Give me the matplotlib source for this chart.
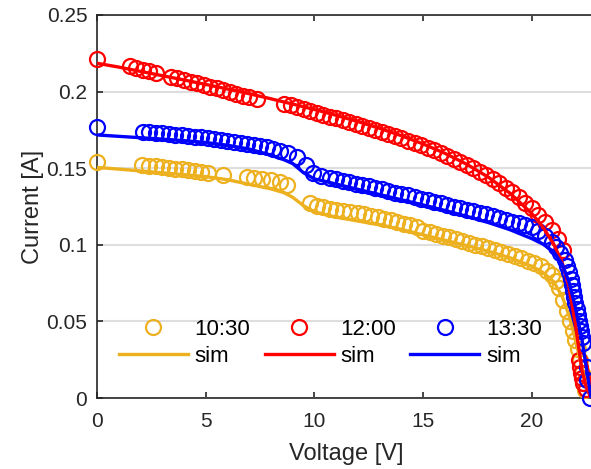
import numpy as np
import matplotlib
matplotlib.use('Agg')
import matplotlib.pyplot as plt

plt.rcParams['font.family'] = ['Liberation Sans', 'DejaVu Sans']

# measured points, 10:30
v_1030 = [0.0, 2.05, 2.4, 2.7, 3.0, 3.3, 3.6, 3.9, 4.2, 4.5, 4.8, 5.1, 5.8, 6.9,
          7.2, 7.6, 8.0, 8.4, 8.73, 9.8, 10.1, 10.4, 10.7, 11.0, 11.3, 11.64,
          12.0, 12.3, 12.6, 12.9, 13.2, 13.5, 13.8, 14.1, 14.4, 14.7, 15.0,
          15.3, 15.6, 15.9, 16.2, 16.5, 16.8, 17.1, 17.4, 17.7, 18.0, 18.3,
          18.6, 18.9, 19.2, 19.5, 19.8, 20.1, 20.4, 20.7, 20.9, 21.1, 21.25,
          21.45, 21.6, 21.75, 21.9, 22.0, 22.1, 22.2, 22.3, 22.37, 22.45]
i_1030 = [0.1543, 0.1521, 0.1517, 0.1512, 0.1508, 0.1503, 0.1498, 0.1493, 0.1488,
          0.1482, 0.1477, 0.1471, 0.1456, 0.1445, 0.1438, 0.1430, 0.1420, 0.1407,
          0.1390, 0.1270, 0.1255, 0.1245, 0.1236, 0.1228, 0.1222, 0.1216, 0.1206,
          0.1198, 0.1190, 0.1180, 0.1170, 0.1160, 0.1149, 0.1138, 0.1127, 0.1116,
          0.1092, 0.1081, 0.1070, 0.1059, 0.1048, 0.1036, 0.1025, 0.1013, 0.1001,
          0.0990, 0.0978, 0.0966, 0.0953, 0.0940, 0.0926, 0.0912, 0.0897, 0.0880,
          0.0860, 0.0832, 0.0805, 0.0765, 0.0720, 0.0640, 0.0570, 0.0500, 0.0440,
          0.0380, 0.0320, 0.0250, 0.0160, 0.0096, 0.0050]

# measured points, 12:00
v_1200 = [0.0, 1.5, 1.8, 2.1, 2.4, 2.7, 3.4, 3.7, 4.0, 4.3, 4.6, 4.9, 5.2, 5.5,
          5.8, 6.1, 6.4, 6.7, 7.0, 7.35, 8.6, 8.9, 9.2, 9.5, 9.8, 10.1, 10.4,
          10.7, 11.0, 11.3, 11.6, 11.9, 12.2, 12.5, 12.8, 13.1, 13.4, 13.7,
          14.0, 14.3, 14.6, 14.9, 15.2, 15.5, 15.8, 16.1, 16.4, 16.7, 17.0,
          17.3, 17.6, 17.9, 18.2, 18.5, 18.8, 19.1, 19.4, 19.7, 20.0, 20.3,
          20.6, 20.9, 21.2, 21.45, 22.15, 22.2, 22.25, 22.3, 22.35, 22.5]
i_1200 = [0.2210, 0.2167, 0.2155, 0.2143, 0.2132, 0.2122, 0.2097, 0.2086, 0.2076,
          0.2064, 0.2054, 0.2043, 0.2032, 0.2021, 0.2010, 0.1998, 0.1986, 0.1974,
          0.1962, 0.1950, 0.1922, 0.1910, 0.1897, 0.1885, 0.1873, 0.1861, 0.1849,
          0.1837, 0.1825, 0.1813, 0.1801, 0.1789, 0.1777, 0.1764, 0.1751, 0.1737,
          0.1723, 0.1709, 0.1695, 0.1680, 0.1665, 0.1649, 0.1633, 0.1616, 0.1599,
          0.1581, 0.1562, 0.1543, 0.1522, 0.1500, 0.1477, 0.1453, 0.1428, 0.1401,
          0.1373, 0.1343, 0.1311, 0.1276, 0.1238, 0.1197, 0.1151, 0.1099, 0.1038,
          0.0966, 0.0250, 0.0200, 0.0160, 0.0130, 0.0100, 0.0060]

# measured points, 13:30
v_1330 = [0.0, 2.1, 2.4, 2.7, 3.0, 3.3, 3.6, 3.9, 4.2, 4.5, 4.8, 5.1, 5.4, 5.7,
          6.0, 6.3, 6.6, 6.9, 7.2, 7.5, 7.8, 8.1, 8.4, 8.8, 9.2, 9.6, 9.95,
          10.3, 10.7, 11.0, 11.3, 11.6, 11.9, 12.2, 12.5, 12.8, 13.1, 13.4,
          13.7, 14.0, 14.3, 14.6, 14.9, 15.2, 15.5, 15.8, 16.1, 16.4, 16.7,
          17.0, 17.3, 17.6, 17.9, 18.2, 18.5, 18.8, 19.1, 19.4, 19.7, 20.0,
          20.3, 20.6, 20.9, 21.1, 21.3, 21.5, 21.6, 21.7, 21.8, 21.85, 21.9,
          21.95, 22.0, 22.05, 22.1, 22.15, 22.2, 22.25, 22.3, 22.35, 22.52,
          22.55, 22.68]
i_1330 = [0.1767, 0.1738, 0.1735, 0.1731, 0.1727, 0.1723, 0.1719, 0.1715, 0.1711,
          0.1706, 0.1701, 0.1696, 0.1690, 0.1684, 0.1678, 0.1672, 0.1665, 0.1658,
          0.1651, 0.1643, 0.1636, 0.1628, 0.1615, 0.1598, 0.1570, 0.1520, 0.1467,
          0.1450, 0.1436, 0.1427, 0.1418, 0.1409, 0.1400, 0.1391, 0.1381, 0.1371,
          0.1361, 0.1351, 0.1341, 0.1331, 0.1322, 0.1312, 0.1302, 0.1292, 0.1282,
          0.1271, 0.1260, 0.1249, 0.1238, 0.1228, 0.1218, 0.1210, 0.1199, 0.1188,
          0.1177, 0.1164, 0.1152, 0.1140, 0.1130, 0.1115, 0.1090, 0.1058, 0.1020,
          0.0985, 0.0944, 0.0900, 0.0860, 0.0820, 0.0780, 0.0740, 0.0700, 0.0660,
          0.0620, 0.0580, 0.0540, 0.0500, 0.0470, 0.0440, 0.0400, 0.0360, 0.0200,
          0.0120, 0.0000]

# simulated curves
v_sim = [0.0, 1.0, 2.0, 3.0, 4.0, 5.0, 6.0, 7.0, 8.0, 8.6, 9.0, 9.5, 10.0, 10.9,
         12.0, 13.0, 14.0, 15.0, 16.0, 17.0, 18.0, 19.0, 20.0, 20.5, 21.0, 21.4,
         21.7, 22.0, 22.3, 22.5, 22.72]
sim_1030 = [0.1505, 0.1494, 0.1482, 0.1470, 0.1458, 0.1445, 0.1425, 0.1395, 0.1365,
            0.1340, 0.1310, 0.1255, 0.1215, 0.1183, 0.1155, 0.1130, 0.1100, 0.1065,
            0.1030, 0.0995, 0.0958, 0.0915, 0.0860, 0.0820, 0.0760, 0.0660, 0.0540,
            0.0380, 0.0200, 0.0080, 0.0]
sim_1200 = [0.2185, 0.2160, 0.2132, 0.2104, 0.2076, 0.2047, 0.2017, 0.1986, 0.1953,
            0.1932, 0.1919, 0.1901, 0.1883, 0.1849, 0.1804, 0.1760, 0.1712, 0.1658,
            0.1597, 0.1526, 0.1441, 0.1336, 0.1203, 0.1117, 0.1005, 0.0880, 0.0730,
            0.0480, 0.0180, 0.0070, 0.0]
sim_1330 = [0.1717, 0.1708, 0.1699, 0.1690, 0.1680, 0.1668, 0.1650, 0.1625, 0.1585,
            0.1555, 0.1530, 0.1470, 0.1430, 0.1400, 0.1362, 0.1328, 0.1294, 0.1260,
            0.1224, 0.1186, 0.1145, 0.1098, 0.1040, 0.1005, 0.0955, 0.0870, 0.0760,
            0.0590, 0.0380, 0.0200, 0.0]

labels = ['10:30', '12:00', '13:30']
colors = ['#EDB120', '#FF0000', '#0000FF']

fig = plt.figure(figsize=(5.91, 4.69), dpi=100)
ax = fig.add_axes([97 / 591, 71 / 469, 498 / 591, 383 / 469])

handles = []
meas = [(v_1030, i_1030), (v_1200, i_1200), (v_1330, i_1330)]
sims = [sim_1030, sim_1200, sim_1330]
for (v, i), s, lab, c in zip(meas, sims, labels, colors):
    m, = ax.plot(v, i, 'o', mfc='none', mec=c, ms=10.8, mew=1.6, label=lab,
                 clip_on=False, zorder=3)
    l, = ax.plot(v_sim, s, '-', color=c, lw=2.4, label='sim', zorder=4)
    handles += [m, l]

ax.set_xlim(0, 22.9)
ax.set_ylim(0, 0.25)
ax.set_xticks([0, 5, 10, 15, 20])
ax.set_yticks([0, 0.05, 0.1, 0.15, 0.2, 0.25])
ax.set_yticklabels(['0', '0.05', '0.1', '0.15', '0.2', '0.25'])
ax.yaxis.grid(True, color='#dedede', lw=1.5)
ax.set_axisbelow(True)
ax.tick_params(direction='in', length=4, width=1.2, colors='#262626',
               labelsize=15, top=True, pad=7)
ax.tick_params(axis='x', pad=10)
for sp in ax.spines.values():
    sp.set_color('#262626')
    sp.set_linewidth(1.2)
ax.spines['right'].set_visible(False)

ax.set_xlabel('Voltage [V]', fontsize=17, color='#262626', labelpad=9)
ax.set_ylabel('Current [A]', fontsize=17, color='#262626', labelpad=2)

ax.legend(handles=handles, ncol=3, loc='lower left', frameon=False,
          fontsize=16, handlelength=3.1, handletextpad=0.3, columnspacing=0.65,
          labelspacing=0.27, bbox_to_anchor=(0.004, 0.03))

fig.savefig('out.png', dpi=100)
